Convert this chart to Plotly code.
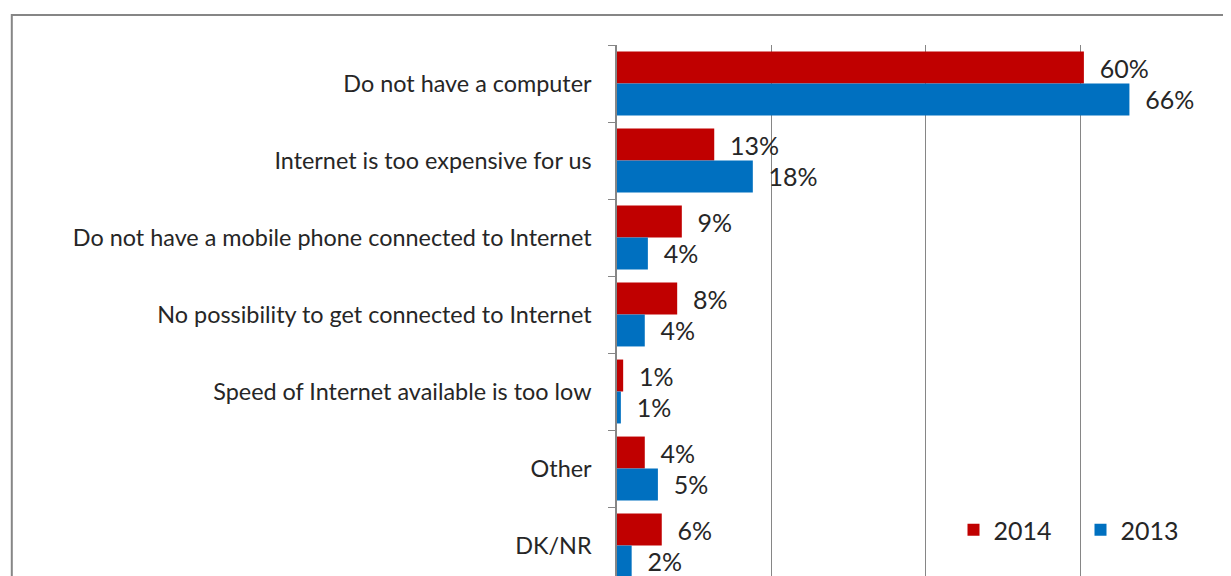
import plotly.graph_objects as go

categories = [
    "Do not have a computer",
    "Internet is too expensive for us",
    "Do not have a mobile phone connected to Internet",
    "No possibility to get connected to Internet",
    "Speed of Internet available is too low",
    "Other",
    "DK/NR",
]
values_2014 = [60.5, 12.6, 8.4, 7.8, 0.8, 3.6, 5.8]
values_2013 = [66.4, 17.6, 4.0, 3.6, 0.5, 5.3, 1.9]
labels_2014 = ["60%", "13%", "9%", "8%", "1%", "4%", "6%"]
labels_2013 = ["66%", "18%", "4%", "4%", "1%", "5%", "2%"]
gridlines = [20, 40, 60]

FONT = "Lato"
TXT = "#262626"
GRAY = "#868686"
pad = "\u00a0\u00a0"

fig = go.Figure()
fig.add_trace(go.Bar(
    y=categories, x=values_2014, name="2014", orientation="h",
    marker=dict(color="#C00000", line=dict(width=0)),
    text=[pad + t for t in labels_2014], textposition="outside",
    textfont=dict(family=FONT, size=25, color=TXT), cliponaxis=False,
))
fig.add_trace(go.Bar(
    y=categories, x=values_2013, name="2013", orientation="h",
    marker=dict(color="#0070C0", line=dict(width=0)),
    text=[pad + t for t in labels_2013], textposition="outside",
    textfont=dict(family=FONT, size=25, color=TXT), cliponaxis=False,
))

fig.update_layout(
    width=1231, height=576,
    margin=dict(l=609, r=0, t=37, b=0),
    paper_bgcolor="white", plot_bgcolor="white",
    barmode="group", bargap=0.17, bargroupgap=0,
    font=dict(family=FONT, size=23, color=TXT),
    showlegend=True,
    legend=dict(orientation="h", x=0.541, y=0.100, xanchor="left", yanchor="middle",
                font=dict(family=FONT, size=25, color=TXT), bgcolor="rgba(0,0,0,0)",
                itemwidth=30, entrywidth=82, entrywidthmode="pixels",
                traceorder="normal"),
    xaxis=dict(range=[0, 80.6], tickvals=gridlines, showticklabels=False,
               showgrid=True, gridcolor=GRAY, gridwidth=1, zeroline=False,
               showline=False, fixedrange=True),
    yaxis=dict(categoryorder="array", categoryarray=categories,
               range=[6.5, -0.5], showline=True, linecolor=GRAY, linewidth=1.5,
               ticks="outside", tickson="boundaries", ticklen=7, tickcolor=GRAY,
               ticklabelstandoff=19, showgrid=False,
               tickfont=dict(family=FONT, size=23.4, color=TXT)),
    shapes=[dict(type="rect", xref="paper", yref="paper",
                 x0=-0.973, x1=1.05, y0=-0.05, y1=1.0557,
                 line=dict(color=GRAY, width=2), fillcolor="rgba(0,0,0,0)", layer="above")],
)

fig.write_html("out.html")
